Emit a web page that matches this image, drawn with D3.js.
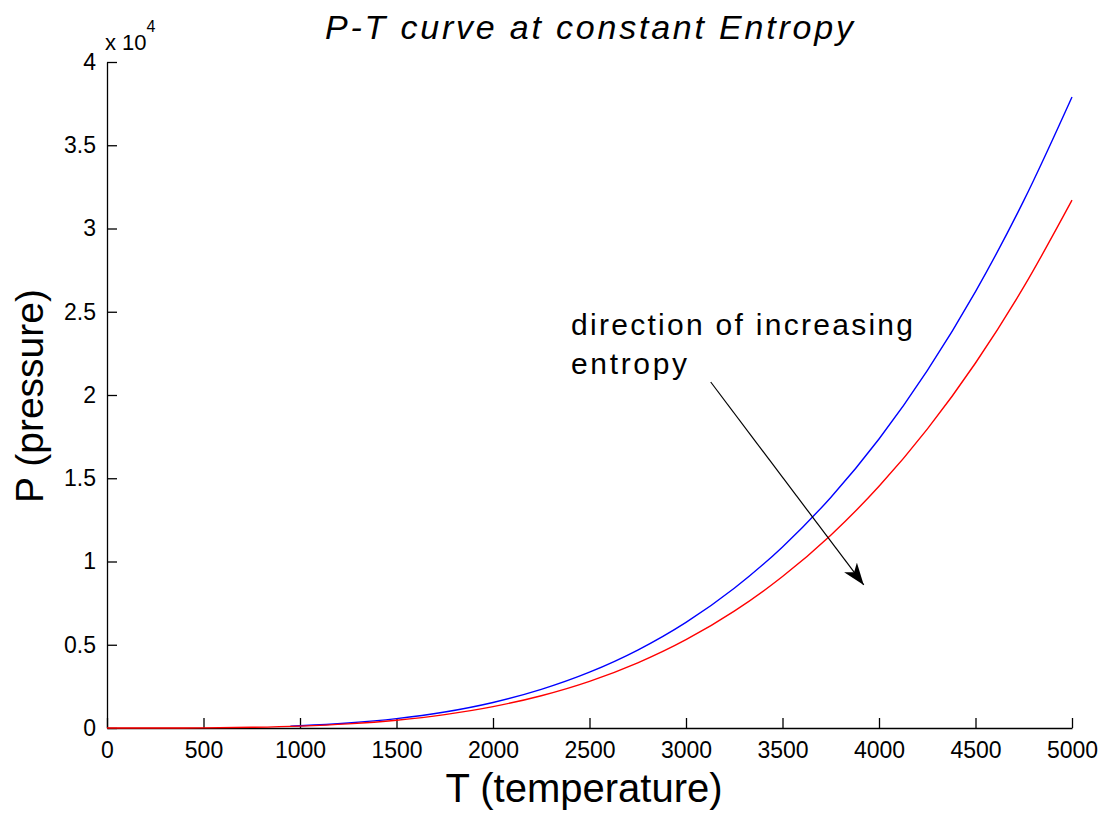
<!DOCTYPE html>
<html>
<head>
<meta charset="utf-8">
<script src="https://cdn.jsdelivr.net/npm/d3@7"></script>
<style>
  html, body { margin: 0; padding: 0; background: #fff; }
  svg { display: block; }
  text { font-family: Arial, "Liberation Sans", sans-serif; fill: #000; }
</style>
</head>
<body>
<svg id="chart" width="1104" height="815"></svg>
<script>
// Temperature samples (K) and pressure along two isentropes
const tempLow = [0, 250, 500, 750, 1000, 1250, 1500, 1750, 2000, 2250, 2500, 2750, 3000,
                 3250, 3500, 3750, 4000, 4250, 4500, 4750, 5000];
const pressureLow = [0, 1, 10, 41, 113, 248, 469, 804, 1283, 1938, 2802, 3912, 5303,
                     7018, 9098, 11583, 14516, 17949, 21923, 26490, 31700];

const tempHigh = [950, 1000, 1250, 1500, 1750, 2000, 2250, 2500, 2750, 3000,
                  3250, 3500, 3750, 4000, 4250, 4500, 4750, 5000];
const pressureHigh = [113, 136, 296, 560, 961, 1534, 2317, 3350, 4677, 6341,
                      8391, 10877, 13848, 17356, 21459, 26211, 31672, 37900];

const xTicks = [0, 500, 1000, 1500, 2000, 2500, 3000, 3500, 4000, 4500, 5000];
const yTicks = [0, 5000, 10000, 15000, 20000, 25000, 30000, 35000, 40000];
const yTickLabels = ["0", "0.5", "1", "1.5", "2", "2.5", "3", "3.5", "4"];

// Annotation arrow: tail and head in data units (T, P)
const arrowTail = [3128, 20780];
const arrowHead = [3921, 8590];

const svg = d3.select("#chart");

const x = d3.scaleLinear().domain([0, 5000]).range([107, 1072]);
const y = d3.scaleLinear().domain([0, 40000]).range([728, 62]);

// Axes with inward ticks
const xAxis = d3.axisBottom(x)
  .tickValues(xTicks)
  .tickFormat(d3.format("d"))
  .tickSizeInner(-10)
  .tickSizeOuter(0)
  .tickPadding(14);

const yAxis = d3.axisLeft(y)
  .tickValues(yTicks)
  .tickFormat((d, i) => yTickLabels[i])
  .tickSizeInner(-10)
  .tickSizeOuter(0)
  .tickPadding(11);

const gx = svg.append("g")
  .attr("transform", `translate(0,${y(0)})`)
  .call(xAxis);

const gy = svg.append("g")
  .attr("transform", `translate(${x(0)},0)`)
  .call(yAxis);

[gx, gy].forEach(g => {
  g.select(".domain").attr("stroke", "#000").attr("stroke-width", 1.3);
  g.selectAll(".tick line").attr("stroke", "#000").attr("stroke-width", 1.3);
  g.selectAll(".tick text")
    .attr("font-family", "Arial, 'Liberation Sans', sans-serif")
    .attr("font-size", 23)
    .attr("fill", "#000");
});

// Exponent label above the y axis
const expo = svg.append("text")
  .attr("x", 105)
  .attr("y", 50)
  .attr("font-size", 22);
expo.append("tspan").text("x 10");
expo.append("tspan")
  .attr("dy", -18)
  .attr("font-size", 16)
  .text("4");

// Isentropes
const line = d3.line()
  .x(d => x(d[0]))
  .y(d => y(d[1]))
  .curve(d3.curveMonotoneX);

svg.append("path")
  .datum(d3.zip(tempHigh, pressureHigh))
  .attr("fill", "none")
  .attr("stroke", "#0000ff")
  .attr("stroke-width", 1.4)
  .attr("d", line);

svg.append("path")
  .datum(d3.zip(tempLow, pressureLow))
  .attr("fill", "none")
  .attr("stroke", "#ff0000")
  .attr("stroke-width", 1.4)
  .attr("d", line);

// Arrow showing the direction of increasing entropy
svg.append("defs").append("marker")
  .attr("id", "arrowhead")
  .attr("viewBox", "0 0 22 16")
  .attr("refX", 22)
  .attr("refY", 8)
  .attr("markerWidth", 22)
  .attr("markerHeight", 16)
  .attr("markerUnits", "userSpaceOnUse")
  .attr("orient", "auto")
  .append("path")
  .attr("d", "M0,0 L22,8 L0,16 L6,8 Z")
  .attr("fill", "#000");

svg.append("line")
  .attr("x1", x(arrowTail[0]))
  .attr("y1", y(arrowTail[1]))
  .attr("x2", x(arrowHead[0]))
  .attr("y2", y(arrowHead[1]))
  .attr("stroke", "#000")
  .attr("stroke-width", 1.2)
  .attr("marker-end", "url(#arrowhead)");

svg.append("text")
  .attr("x", 571)
  .attr("y", 335)
  .attr("font-size", 30)
  .attr("textLength", 342)
  .attr("lengthAdjust", "spacing")
  .text("direction of increasing");

svg.append("text")
  .attr("x", 571)
  .attr("y", 374)
  .attr("font-size", 30)
  .attr("textLength", 116)
  .attr("lengthAdjust", "spacing")
  .text("entropy");

// Title and axis labels
svg.append("text")
  .attr("x", 325)
  .attr("y", 39)
  .attr("font-size", 34)
  .attr("font-style", "italic")
  .attr("textLength", 528)
  .attr("lengthAdjust", "spacing")
  .text("P-T curve at constant Entropy");

svg.append("text")
  .attr("x", 584)
  .attr("y", 802)
  .attr("text-anchor", "middle")
  .attr("font-size", 40)
  .text("T (temperature)");

svg.append("text")
  .attr("transform", "translate(43,396) rotate(-90)")
  .attr("text-anchor", "middle")
  .attr("font-size", 39)
  .text("P (pressure)");
</script>
</body>
</html>
